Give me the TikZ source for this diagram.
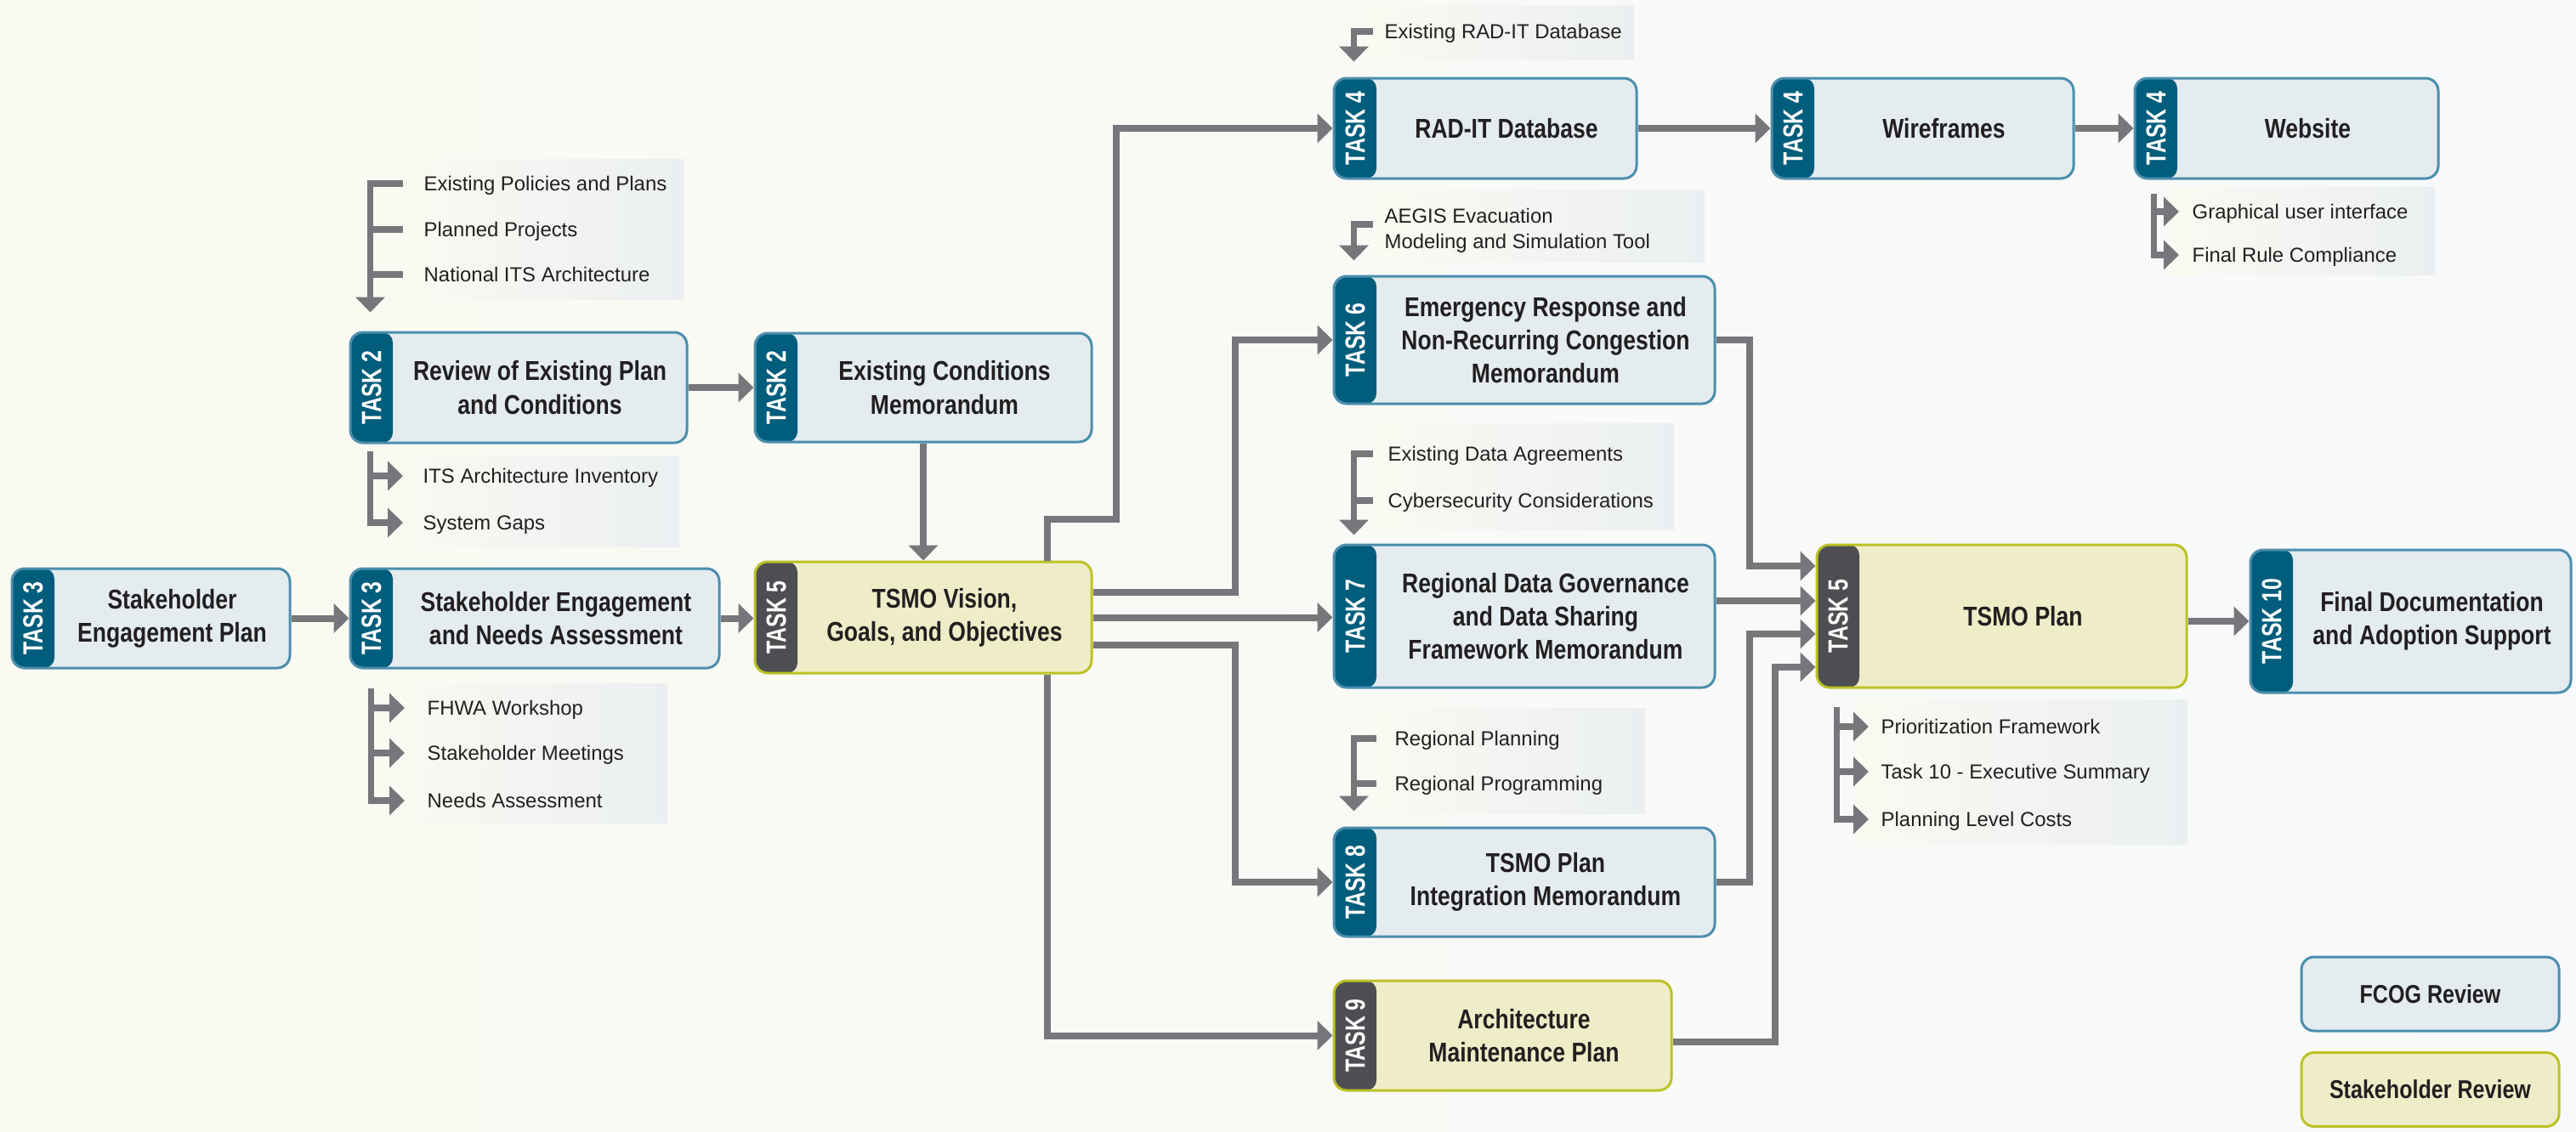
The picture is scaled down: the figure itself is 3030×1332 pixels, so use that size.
\documentclass[tikz,border=0pt]{standalone}
\usepackage{fontspec}
\setmainfont{Liberation Sans}
\newfontfamily\condbf{Liberation Sans}[FakeStretch=0.83]
\newfontfamily\tagbf{Liberation Sans}[FakeStretch=0.76]
\usetikzlibrary{arrows.meta, calc, positioning}

\definecolor{bgleft}{HTML}{FAFAF2}
\definecolor{bgright}{HTML}{F8F9FA}
\definecolor{notegray}{HTML}{EBEFF1}
\definecolor{fcogfill}{HTML}{E4ECF0}
\definecolor{fcogline}{HTML}{4B8EAD}
\definecolor{fcogtab}{HTML}{005D7C}
\definecolor{stakefill}{HTML}{EFEDC8}
\definecolor{stakeline}{HTML}{BCC125}
\definecolor{staketab}{HTML}{4D4E52}
\definecolor{arrowgray}{HTML}{76777B}
\definecolor{textdark}{HTML}{231F20}

\newcommand{\boxfont}{\condbf\bfseries\fontsize{9.1}{11.2}\selectfont}
\newcommand{\tagfont}{\tagbf\bfseries\fontsize{9.3}{9.3}\selectfont}
\newcommand{\notefont}{\fontsize{6.8}{8.5}\selectfont}
\newcommand{\keyfont}{\condbf\bfseries\fontsize{8.6}{10}\selectfont}

\tikzstyle{taskbox} = [rectangle, rounded corners=1.5mm, line width=0.3mm, inner sep=0pt]
\tikzstyle{boxtext} = [align=center, font=\boxfont, text=textdark, inner sep=0pt]
\tikzstyle{keybox} = [rectangle, rounded corners=1.5mm, line width=0.3mm, text=textdark, font=\keyfont,
  minimum width=30.3mm, minimum height=8.7mm]
\tikzstyle{arrow} = [line width=0.8mm, draw=arrowgray, -{Triangle[length=1.8mm, width=3.4mm]}]
\tikzstyle{bar} = [line width=0.75mm, draw=arrowgray]
\tikzstyle{bararrow} = [bar, -{Triangle[length=1.8mm, width=3.4mm]}]
\tikzset{
  tasktag/.style={rotate=90, text=white, font=\tagfont, inner sep=0pt, draw=none, fill=none},
  tab/.style 2 args={path picture={
      \fill[#1, rounded corners=1.2mm] (path picture bounding box.south west) rectangle ([xshift=5mm]path picture bounding box.north west);
      \node[tasktag] at ([xshift=2.5mm]path picture bounding box.west) {TASK #2};}},
  fcog/.style={taskbox, fill=fcogfill, draw=fcogline, tab={fcogtab}{#1}},
  stake/.style={taskbox, fill=stakefill, draw=stakeline, tab={staketab}{#1}},
  note/.style={anchor=west, font=\notefont, text=textdark, inner sep=0pt, inner xsep=#1,
    text height=1.7mm, text depth=0pt},
  note/.default=2mm
}

\begin{document}
\begin{tikzpicture}[x=0.1mm, y=-0.1mm]
    \shade[left color=bgleft, right color=bgright] (0,0) rectangle (3030,1332);
    \useasboundingbox (0,0) rectangle (3030,1332);

    % Note panels
    \shade[left color=bgleft, right color=notegray] (481,187) rectangle (804,352);
    \shade[left color=bgleft, right color=notegray] (459,537) rectangle (799,643);
    \shade[left color=bgleft, right color=notegray] (459,804) rectangle (785,968);
    \shade[left color=bgleft, right color=notegray] (1605,6) rectangle (1922,70);
    \shade[left color=bgleft, right color=notegray] (1618,223) rectangle (2005,308);
    \shade[left color=bgleft, right color=notegray] (1616,498) rectangle (1969,623);
    \shade[left color=bgleft, right color=notegray] (1612,833) rectangle (1935,957);
    \shade[left color=bgleft, right color=notegray] (2183,823) rectangle (2573,993);
    \shade[left color=bgleft, right color=notegray] (2552,220) rectangle (2864,323);

    % Task boxes
    \node [fcog=3, minimum width=32.7mm, minimum height=11.7mm] (sep) at (177.5,727.5) {};
    \node [fcog=3, minimum width=43.4mm, minimum height=11.7mm] (sena) at (629,727.5) {};
    \node [fcog=2, minimum width=39.6mm, minimum height=13mm] (review) at (610,456) {};
    \node [fcog=2, minimum width=39.6mm, minimum height=12.8mm] (exist) at (1086,456) {};
    \node [stake=5, minimum width=39.6mm, minimum height=13.1mm] (vision) at (1086,726.5) {};
    \node [fcog=4, minimum width=35.6mm, minimum height=11.8mm] (raddb) at (1747,151) {};
    \node [fcog=4, minimum width=35.5mm, minimum height=11.8mm] (wire) at (2261.5,151) {};
    \node [fcog=4, minimum width=35.7mm, minimum height=11.8mm] (web) at (2689.5,151) {};
    \node [fcog=6, minimum width=44.8mm, minimum height=15mm] (emerg) at (1793,400) {};
    \node [fcog=7, minimum width=44.8mm, minimum height=16.8mm] (gov) at (1793,725) {};
    \node [stake=5, minimum width=43.5mm, minimum height=16.8mm] (plan) at (2354.5,725) {};
    \node [fcog=8, minimum width=44.8mm, minimum height=12.8mm] (integ) at (1793,1038) {};
    \node [stake=9, minimum width=39.7mm, minimum height=12.9mm] (arch) at (1767.5,1218.5) {};
    \node [fcog=10, minimum width=37.7mm, minimum height=16.8mm] (final) at (2835.5,731) {};

    % Box texts, centred right of the tab
    \node [boxtext] (sep-t) at ([xshift=2.5mm]sep.center) {Stakeholder\\Engagement Plan};
    \node [boxtext] (sena-t) at ([xshift=2.5mm]sena.center) {Stakeholder Engagement\\and Needs Assessment};
    \node [boxtext] (review-t) at ([xshift=2.5mm]review.center) {Review of Existing Plan\\and Conditions};
    \node [boxtext] (exist-t) at ([xshift=2.5mm]exist.center) {Existing Conditions\\Memorandum};
    \node [boxtext] (vision-t) at ([xshift=2.5mm]vision.center) {TSMO Vision,\\Goals, and Objectives};
    \node [boxtext] (raddb-t) at ([xshift=2.5mm]raddb.center) {RAD-IT Database};
    \node [boxtext] (wire-t) at ([xshift=2.5mm]wire.center) {Wireframes};
    \node [boxtext] (web-t) at ([xshift=2.5mm]web.center) {Website};
    \node [boxtext] (emerg-t) at ([xshift=2.5mm]emerg.center) {Emergency Response and\\Non-Recurring Congestion\\Memorandum};
    \node [boxtext] (gov-t) at ([xshift=2.5mm]gov.center) {Regional Data Governance\\and Data Sharing\\Framework Memorandum};
    \node [boxtext] (plan-t) at ([xshift=2.5mm]plan.center) {TSMO Plan};
    \node [boxtext] (integ-t) at ([xshift=2.5mm]integ.center) {TSMO Plan\\Integration Memorandum};
    \node [boxtext] (arch-t) at ([xshift=2.5mm]arch.center) {Architecture\\Maintenance Plan};
    \node [boxtext] (final-t) at ([xshift=2.5mm]final.center) {Final Documentation\\and Adoption Support};

    % Key
    \node [keybox, fill=fcogfill, draw=fcogline] (keyfcog) at (2858.5,1169.5) {FCOG Review};
    \node [keybox, fill=stakefill, draw=stakeline] (keystake) at (2858.5,1282) {Stakeholder Review};

    % Notes
    \node [note=2.4mm] (pol) at (474,216) {Existing Policies and Plans};
    \node [note=2.4mm] (proj) at (474,270) {Planned Projects};
    \node [note=2.4mm] (natl) at (474,323) {National ITS Architecture};
    \node [note=2.3mm] (inv) at (474,560) {ITS Architecture Inventory};
    \node [note=2.3mm] (gaps) at (474,615) {System Gaps};
    \node [note=2.6mm] (fhwa) at (476,833) {FHWA Workshop};
    \node [note=2.6mm] (meet) at (476,886) {Stakeholder Meetings};
    \node [note=2.6mm] (needs) at (476,942) {Needs Assessment};
    \node [note=1.3mm] (olddb) at (1615,37) {Existing RAD-IT Database};
    \node [note=1.3mm] (aegis) at (1615,254) {AEGIS Evacuation};
    \node [note=1.3mm] (model) at (1615,284) {Modeling and Simulation Tool};
    \node [note=1.7mm] (agree) at (1615,534) {Existing Data Agreements};
    \node [note=1.7mm] (cyber) at (1615,589) {Cybersecurity Considerations};
    \node [note=2.1mm] (rplan) at (1619,869) {Regional Planning};
    \node [note=2.1mm] (rprog) at (1619,922) {Regional Programming};
    \node [note=1.4mm] (prio) at (2198,855) {Prioritization Framework};
    \node [note=1.4mm] (exec) at (2198,908) {Task 10 - Executive Summary};
    \node [note=1.4mm] (costs) at (2198,964) {Planning Level Costs};
    \node [note=1.5mm] (gui) at (2563,249) {Graphical user interface};
    \node [note=1.5mm] (rule) at (2563,300) {Final Rule Compliance};

    % Note brackets
    \draw [bararrow] (pol.west) -| ($(review.north west)+(25,-22)$);
    \draw [bar] (proj.west) -- ++(-37,0);
    \draw [bar] (natl.west) -- ++(-37,0);
    \coordinate (revout) at ($(review.south west)+(25,8)$);
    \draw [bararrow] (revout) |- (gaps.west);
    \draw [bararrow] (inv.west -| revout) -- (inv.west);
    \coordinate (senaout) at ($(sena.south west)+(26,22)$);
    \draw [bararrow] (senaout) |- (needs.west);
    \draw [bararrow] (fhwa.west -| senaout) -- (fhwa.west);
    \draw [bararrow] (meet.west -| senaout) -- (meet.west);
    \draw [bararrow] (olddb.west) -| ($(raddb.north west)+(25,-18)$);
    \draw [bararrow] ($(aegis.west)+(0,10)$) -| ($(emerg.north west)+(25,-17)$);
    \draw [bararrow] (agree.west) -| ($(gov.north west)+(25,-10)$);
    \draw [bar] (cyber.west) -- ++(-22,0);
    \draw [bararrow] (rplan.west) -| ($(integ.north west)+(25,-18)$);
    \draw [bar] (rprog.west) -- ++(-26,0);
    \coordinate (planout) at ($(plan.south west)+(25,21)$);
    \draw [bararrow] (planout) |- (costs.west);
    \draw [bararrow] (prio.west -| planout) -- (prio.west);
    \draw [bararrow] (exec.west -| planout) -- (exec.west);
    \coordinate (webout) at ($(web.south west)+(24,16)$);
    \draw [bararrow] (webout) |- (rule.west);
    \draw [bararrow] (gui.west -| webout) -- (gui.west);

    % Arrows
    \draw [arrow] (sep) -- (sena);
    \draw [arrow] (sena.east) -- (sena.east -| vision.west);
    \draw [arrow] (review) -- (exist);
    \draw [arrow] (exist) -- (vision);
    \draw [arrow] ([xshift=-5.4mm]vision.north east) -- ++(0,-49) -| ([xshift=-25.5mm]raddb.west) -- (raddb.west);
    \draw [arrow] ([yshift=3mm]vision.east) -- ++(167,0) |- (emerg.west);
    \draw [arrow] (vision) -- (vision -| gov.west);
    \draw [arrow] ([yshift=-3.2mm]vision.east) -- ++(167,0) |- (integ.west);
    \draw [arrow] ([xshift=-5.4mm]vision.south east) |- (arch.west);
    \draw [arrow] (raddb) -- (wire);
    \draw [arrow] (wire) -- (web);
    \draw [arrow] (emerg.east) -- ++(39,0) |- ([yshift=5.9mm]plan.west);
    \draw [arrow] ([yshift=1.8mm]gov.east) -- ([yshift=1.8mm]plan.west);
    \draw [arrow] (integ.east) -- ++(39,0) |- ([yshift=-2.1mm]plan.west);
    \draw [arrow] ([yshift=-0.75mm]arch.east) -- ++(120,0) |- ([yshift=-6mm]plan.west);
    \draw [arrow] (plan.east |- final.west) -- (final.west);
\end{tikzpicture}
\end{document}
